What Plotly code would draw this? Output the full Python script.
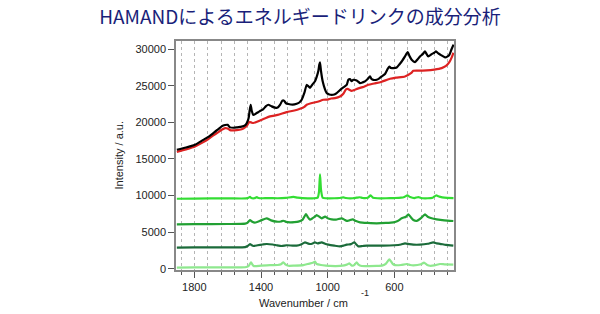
import plotly.graph_objects as go

# ---- data ----
black_wn = [1905,1850,1796,1746,1716,1686,1656,1636,1615,1600,1586,1566,1546,1516,1496,1485,1475,1468,1462,1456,1446,1430,1416,1400,1386,1370,1356,1336,1316,1300,1285,1272,1262,1250,1236,1210,1186,1170,1156,1140,1126,1115,1106,1090,1076,1066,1056,1050,1046,1040,1030,1016,1006,990,976,960,946,926,906,886,876,866,856,846,826,806,790,776,760,746,736,726,706,690,676,656,640,630,620,606,586,570,556,536,520,508,496,476,460,446,430,416,406,396,376,360,350,336,322,296,280,270,258,245]
black_val = [16250,16550,16930,17600,18000,18520,19050,19440,19620,19650,19300,19250,19300,19400,19570,19900,20500,21600,22390,21600,21000,21200,21390,21600,21800,22200,22390,22170,22000,22000,22400,22950,22950,22600,22500,22400,22520,22700,23070,24000,25100,24900,24700,25200,25600,26200,27000,27900,28200,27000,25600,24500,24000,23800,23750,23800,23980,24400,24760,25100,25800,25900,25600,25800,25700,25350,25450,25580,25900,26260,25900,25800,25800,26000,26260,26600,27300,27600,27400,27400,27490,27900,28300,29000,29580,29000,28530,28220,28600,28990,29300,29670,29300,28990,29310,29500,29670,29400,29210,28860,29000,29210,29900,30600]

red_wn = [1905,1850,1796,1746,1716,1686,1656,1636,1615,1600,1586,1546,1516,1496,1480,1470,1456,1446,1400,1346,1300,1246,1200,1166,1140,1126,1100,1060,1026,1000,980,956,926,906,890,880,856,820,790,756,720,680,626,590,536,500,486,450,406,360,316,290,270,255,245]
red_val = [15950,16300,16700,17290,17700,18210,18650,18970,19200,19150,18930,18930,19050,19300,19700,20050,19950,19900,20300,20800,21000,21390,21600,21840,22100,22390,22600,22800,23070,23100,23250,23300,23530,23900,24500,24550,24300,24600,24800,25120,25300,25500,25940,26100,26260,26700,27030,27050,27080,27200,27400,27700,28200,28900,29500]

lime_wn = [1905,1800,1600,1490,1475,1466,1458,1440,1425,1415,1390,1360,1300,1250,1206,1180,1120,1080,1060,1052,1046,1040,1030,1010,960,930,906,890,850,826,806,790,760,742,728,700,650,600,560,540,522,505,480,456,440,400,370,350,330,300,245]
lime_val = [9550,9580,9600,9600,9680,9800,9650,9620,9780,9650,9620,9650,9620,9680,9800,9700,9600,9620,9700,10500,12900,10800,9700,9620,9620,9650,9750,9650,9620,9700,9760,9650,9680,10000,9700,9620,9620,9650,9700,9800,10000,9780,9650,9780,9650,9620,9700,10000,9850,9700,9650]

mid_wn = [1905,1800,1600,1495,1480,1466,1455,1436,1400,1366,1340,1306,1280,1266,1250,1226,1200,1176,1150,1130,1118,1106,1090,1076,1066,1050,1036,1016,996,976,950,916,900,886,870,850,830,806,760,706,650,606,580,556,530,516,500,486,466,440,416,400,376,346,300,246]
mid_val = [6050,6080,6100,6150,6300,6650,6450,6300,6600,6880,6600,6420,6450,6550,6400,6330,6350,6420,6700,7470,7000,6700,6900,7100,7330,7100,6880,7100,6850,6740,6700,6880,6700,6520,6600,6740,6500,6330,6250,6200,6250,6330,6500,6880,7100,7420,7000,6650,6520,6900,7420,7100,6880,6740,6600,6510]

dark_wn = [1905,1800,1600,1495,1480,1466,1455,1446,1420,1390,1366,1330,1306,1276,1246,1210,1186,1160,1136,1120,1106,1090,1076,1060,1036,1016,996,960,926,905,886,860,840,828,816,790,766,720,666,600,560,536,510,486,446,400,366,346,326,290,246]
dark_val = [2880,2900,2920,2950,3100,3370,3200,3100,3200,3300,3370,3300,3200,3100,3200,3150,3140,3300,3600,3450,3370,3450,3600,3450,3600,3400,3280,3150,3050,3150,3280,3350,3600,3300,3050,3100,3140,3150,3140,3200,3300,3460,3350,3280,3280,3400,3600,3450,3400,3250,3140]

light_wn = [1905,1800,1600,1495,1475,1460,1450,1442,1400,1346,1300,1280,1266,1252,1236,1200,1146,1110,1090,1076,1066,1040,1010,986,926,900,880,870,860,850,838,826,815,796,750,706,670,650,640,630,620,610,596,560,526,505,486,440,422,405,386,360,326,300,246]
light_val = [150,170,190,200,350,870,500,350,420,490,500,600,870,550,400,420,490,700,800,960,640,500,420,370,370,450,600,730,500,400,550,870,550,370,360,370,450,700,1000,1280,1000,650,490,500,640,500,450,600,820,550,400,450,640,600,550]

x_ticks = [1800, 1400, 1000, 600]
y_ticks = [0, 5000, 10000, 15000, 20000, 25000, 30000]

series = [
    (light_wn, light_val, "#8ee88e"),
    (dark_wn, dark_val, "#1b6b3a"),
    (mid_wn, mid_val, "#22a033"),
    (lime_wn, lime_val, "#33dd33"),
    (red_wn, red_val, "#dd2222"),
    (black_wn, black_val, "#000000"),
]

fig = go.Figure()
for wn, val, col in series:
    fig.add_trace(go.Scatter(x=wn, y=val, mode="lines",
                             line=dict(color=col, width=2.2, shape="spline", smoothing=0.5),
                             showlegend=False, hoverinfo="skip"))

txt_font = "Liberation Sans, Arial, sans-serif"

fig.update_layout(
    width=600, height=314,
    margin=dict(l=176, r=146, t=41, b=44, autoexpand=False),
    paper_bgcolor="white", plot_bgcolor="white",
    font=dict(family=txt_font, size=11, color="#222222"),
    title=dict(text="HAMANDによるエネルギードリンクの成分分析",
               x=0.5, xanchor="center", y=0.945, yanchor="middle",
               font=dict(family="Noto Sans CJK JP", size=19, color="#1a1f7a")),
    annotations=[
        dict(text="Wavenumber / cm", xref="paper", yref="paper", x=0.5, y=0,
             xanchor="center", yanchor="top", yshift=-25, xshift=-12, showarrow=False,
             font=dict(family=txt_font, size=11, color="#222222")),
        dict(text="-1", xref="paper", yref="paper", x=0.5, y=0,
             xanchor="center", yanchor="top", yshift=-16, xshift=50, showarrow=False,
             font=dict(family=txt_font, size=9, color="#222222")),
        dict(text="Intensity / a.u.", xref="paper", yref="paper", x=0, y=0.5,
             xanchor="center", yanchor="middle", xshift=-58, textangle=-90, showarrow=False,
             font=dict(family=txt_font, size=11, color="#222222")),
    ],
)

fig.update_xaxes(
    range=[1910, 242], automargin=False,
    tickmode="array", tickvals=x_ticks, ticktext=[str(v) for v in x_ticks],
    ticks="outside", ticklen=6, tickcolor="#555555",
    tickfont=dict(size=11, color="#222222"),
    showline=True, mirror=True, linecolor="#888888", linewidth=1.5,
    showgrid=True, gridcolor="#b5b5b5", griddash="dot", gridwidth=1,
    minor=dict(tick0=200, dtick=80, ticks="outside", ticklen=3, tickcolor="#555555",
               showgrid=True, gridcolor="#b5b5b5", griddash="dot", gridwidth=1),
    zeroline=False,
)
fig.update_yaxes(
    range=[-180, 31100], automargin=False,
    tickmode="array", tickvals=y_ticks, ticktext=[str(v) for v in y_ticks],
    ticks="outside", ticklen=6, tickcolor="#555555",
    tickfont=dict(size=11, color="#222222"),
    showline=True, mirror=True, linecolor="#888888", linewidth=1.5,
    showgrid=False, zeroline=False,
)

fig.write_html("out.html")
